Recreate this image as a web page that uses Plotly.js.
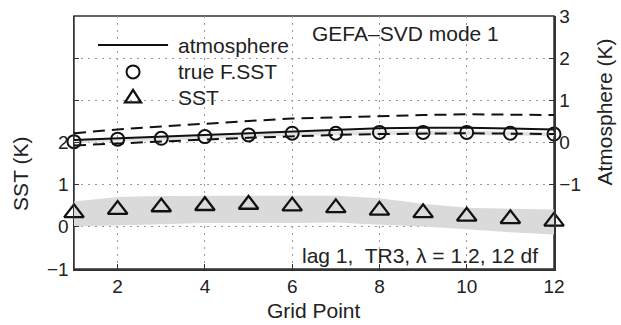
<!DOCTYPE html>
<html><head><meta charset="utf-8">
<script src="https://cdn.plot.ly/plotly-3.0.1.min.js"></script>
<style>html,body{margin:0;padding:0;background:#fff}#chart{width:621px;height:325px}</style>
</head><body><div id="chart"></div>
<script>
const gridPoints = [1,2,3,4,5,6,7,8,9,10,11,12];
// atmosphere (right axis, K)
const atmosphere = [0.06,0.10,0.14,0.18,0.22,0.27,0.31,0.34,0.35,0.35,0.33,0.31];
const atmUpper   = [0.22,0.31,0.38,0.45,0.51,0.57,0.60,0.63,0.65,0.67,0.66,0.65];
const atmLower   = [-0.07,-0.02,0.03,0.07,0.11,0.15,0.18,0.20,0.21,0.22,0.21,0.20];
const trueFSST   = [0.02,0.08,0.10,0.14,0.18,0.22,0.22,0.24,0.24,0.24,0.22,0.20];
const trueBandLo = [-0.02,0.03,0.05,0.09,0.13,0.16,0.17,0.18,0.18,0.18,0.17,0.15];
const trueBandHi = [0.08,0.12,0.14,0.18,0.22,0.26,0.26,0.28,0.28,0.28,0.26,0.24];
// SST (left axis, K)
const sst        = [0.33,0.41,0.47,0.50,0.53,0.49,0.45,0.39,0.33,0.25,0.19,0.13];
const sstUpper   = [0.60,0.71,0.73,0.74,0.74,0.74,0.74,0.68,0.55,0.45,0.43,0.41];
const sstLower   = [0.01,0.03,0.06,0.09,0.09,0.09,0.10,0.05,0.01,-0.06,-0.13,-0.18];
const xTicks = [2,4,6,8,10,12];
const leftTicks = [-1,0,1,2,3,4,5];
const leftTickText = ['−1','0','1','2','','',''];
const rightTicks = [-3,-2,-1,0,1,2,3];
const rightTickText = ['','','−1','0','1','2','3'];
const legendLabels = ['atmosphere','true F.SST','SST'];

const rev = a => a.slice().reverse();
const xBand = gridPoints.concat(rev(gridPoints));
const FONT = 'Liberation Sans, Arial, sans-serif';
const INK = '#111';

const traces = [
  {x:xBand, y:sstUpper.concat(rev(sstLower)), yaxis:'y', fill:'toself', fillcolor:'#dadada',
   line:{width:0}, mode:'lines', showlegend:false, hoverinfo:'skip'},
  {x:xBand, y:trueBandHi.concat(rev(trueBandLo)), yaxis:'y2', fill:'toself', fillcolor:'#e2e2e2',
   line:{width:0}, mode:'lines', showlegend:false, hoverinfo:'skip'},
  {x:gridPoints, y:atmUpper, yaxis:'y2', mode:'lines', line:{color:INK, width:2, dash:'12px,7px'}, showlegend:false},
  {x:gridPoints, y:atmLower, yaxis:'y2', mode:'lines', line:{color:INK, width:2, dash:'12px,7px'}, showlegend:false},
  {x:gridPoints, y:atmosphere, yaxis:'y2', mode:'lines', name:legendLabels[0], line:{color:INK, width:2}, showlegend:false},
  {x:gridPoints, y:trueFSST, yaxis:'y2', mode:'markers', name:legendLabels[1], cliponaxis:false, showlegend:false,
   marker:{symbol:'circle-open', size:13, color:INK, line:{width:2, color:INK}}},
  {x:gridPoints, y:sst, yaxis:'y', mode:'markers', name:legendLabels[2], cliponaxis:false, showlegend:false,
   marker:{symbol:'triangle-up-open', size:17, color:INK, line:{width:2.3, color:INK}}}
];

const axisCommon = {
  showline:true, linecolor:'#333', linewidth:1.5,
  ticks:'inside', ticklen:5, tickcolor:'#333', tickwidth:1,
  showgrid:true, gridcolor:'#999', griddash:'2px,5px', gridwidth:1,
  zeroline:false, tickfont:{family:FONT, size:19, color:'#222'}
};

const txt = (s, o) => Object.assign({text:s, xref:'paper', yref:'paper', showarrow:false,
  font:{family:FONT, size:21, color:'#222'}}, o);

// manual legend placement (paper coordinates)
const legX0 = 0.05, legX1 = 0.196, legMid = 0.123, legTextX = 0.2125;
const legY = [0.885, 0.779, 0.676];

const layout = {
  width:621, height:325,
  margin:{l:74, r:67, t:16, b:56},
  paper_bgcolor:'#fff', plot_bgcolor:'#fff',
  font:{family:FONT, color:'#222'},
  showlegend:false,
  xaxis:Object.assign({}, axisCommon, {range:[1,12], tickvals:xTicks}),
  yaxis:Object.assign({}, axisCommon, {range:[-1,5], tickvals:leftTicks, ticktext:leftTickText}),
  yaxis2:Object.assign({}, axisCommon, {range:[-3,3], tickvals:rightTicks, ticktext:rightTickText,
     overlaying:'y', side:'right', showgrid:false}),
  shapes:[
    {type:'rect', xref:'paper', yref:'paper', x0:0, x1:1, y0:0, y1:1, line:{color:'#333', width:1.5}, layer:'below'},
    {type:'line', xref:'paper', yref:'paper', x0:legX0, x1:legX1, y0:legY[0], y1:legY[0], line:{color:INK, width:2}},
    {type:'circle', xref:'paper', yref:'paper', xsizemode:'pixel', ysizemode:'pixel',
     xanchor:legMid, yanchor:legY[1], x0:-6.5, x1:6.5, y0:-6.5, y1:6.5, line:{color:INK, width:2}},
    {type:'path', xref:'paper', yref:'paper', xsizemode:'pixel', ysizemode:'pixel',
     xanchor:legMid, yanchor:legY[2], path:'M-8,-4.5 L8,-4.5 L0,8 Z', line:{color:INK, width:2.3}}
  ],
  annotations:[
    txt(legendLabels[0], {x:legTextX, y:legY[0], xanchor:'left', yanchor:'middle'}),
    txt(legendLabels[1], {x:legTextX, y:legY[1], xanchor:'left', yanchor:'middle'}),
    txt(legendLabels[2], {x:legTextX, y:legY[2], xanchor:'left', yanchor:'middle'}),
    txt('GEFA–SVD mode 1', {x:0.492, y:0.985, xanchor:'left', yanchor:'top'}),
    txt('lag 1,  TR3, λ = 1.2, 12 df', {x:0.97, y:0.0, xanchor:'right', yanchor:'bottom'}),
    txt('SST (K)', {x:-0.113, y:0.375, textangle:-90, xanchor:'center', yanchor:'middle'}),
    txt('Atmosphere (K)', {x:1.105, y:0.62, textangle:-90, xanchor:'center', yanchor:'middle'}),
    txt('Grid Point', {x:0.5, y:-0.166, xanchor:'center', yanchor:'middle'})
  ]
};
Plotly.newPlot('chart', traces, layout, {staticPlot:true, displayModeBar:false});
</script></body></html>
